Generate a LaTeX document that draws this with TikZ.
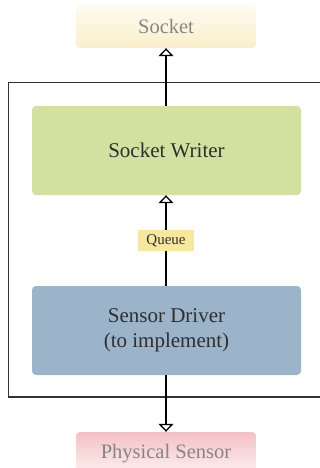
\documentclass[tikz,border=0pt]{standalone}
\usepackage{fontspec}
\setmainfont{Liberation Serif}
\usetikzlibrary{arrows.meta}
\definecolor{writerc}{HTML}{D3E09F}
\definecolor{driverc}{HTML}{9CB4C9}
\definecolor{queuec}{HTML}{F7E89E}
\definecolor{socktop}{HTML}{FDFAF2}
\definecolor{sockbot}{HTML}{F9F0C9}
\definecolor{phystop}{HTML}{F4C0C4}
\definecolor{physbot}{HTML}{FDF2F2}
\definecolor{greytext}{HTML}{858585}
\definecolor{darktext}{HTML}{2F2F2F}
\definecolor{framec}{HTML}{333333}
\begin{document}
\begin{tikzpicture}[x=1pt,y=-1pt,
  mainbox/.style={rounded corners=4pt, minimum width=269pt, minimum height=89pt, inner sep=0pt, align=center, font=\fontsize{21}{25}\selectfont, text=darktext},
  outbox/.style={rounded corners=4pt, minimum width=180pt, minimum height=43pt, inner sep=0pt, font=\fontsize{20.5}{24}\selectfont, text=greytext},
  qlabel/.style={fill=queuec, minimum width=56pt, minimum height=21pt, inner sep=0pt, font=\fontsize{15}{17}\selectfont, text=darktext},
  flow/.style={line width=2pt, black, -{Triangle[open, width=15pt, length=8pt, line width=1.3pt]}}
]
\useasboundingbox (0,0) rectangle (320,468);
\begin{scope}
\clip (0,0) rectangle (320,468);
\draw[framec, line width=1.3pt] (8.5,82.5) -- (330,82.5) -- (330,397) -- (8.5,397) -- cycle;
\node[outbox, top color=socktop, bottom color=sockbot] (socket) at (166,26.5) {Socket};
\node[outbox, top color=phystop, bottom color=physbot] (phys) at (166,453.5) {\raisebox{0.5pt}{Physical Sensor}};
\end{scope}
\node[mainbox, fill=writerc] (writer) at (166.5,150.5) {Socket Writer};
\node[mainbox, fill=driverc] (driver) at (166.5,330.5) {Sensor Driver\\(to implement)};
\draw[flow] (writer.north -| socket.south) -- (socket.south);
\draw[flow] (driver.north -| socket.south) -- node[qlabel] (queue) {Queue} (writer.south -| socket.south);
\draw[flow] (driver.south -| socket.south) -- (phys.north);
\end{tikzpicture}
\end{document}
